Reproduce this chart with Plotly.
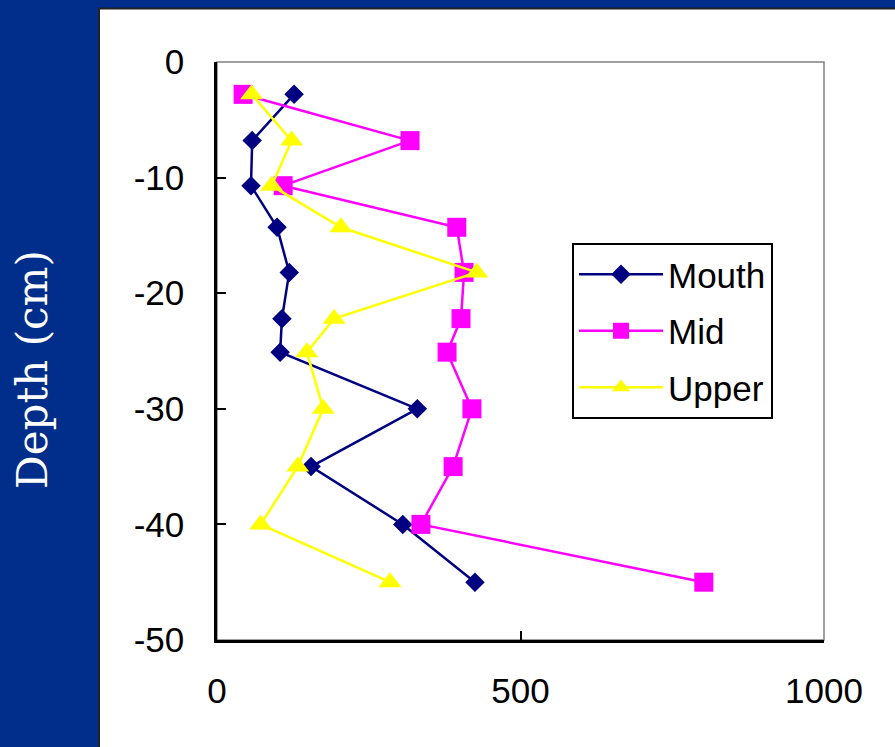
import plotly.graph_objects as go

# Sampling depths (cm) and concentrations at the three stations
depth = [-2.8, -6.8, -10.7, -14.3, -18.2, -22.2, -25.1, -30, -35, -40, -45]
mouth = [127, 58, 56, 99, 119, 107, 104, 330, 155, 306, 425]
mid = [43, 318, 109, 395, 407, 402, 379, 420, 389, 336, 802]
upper = [57, 123, 90, 204, 428, 193, 148, 175, 133, 72, 285]

x_ticks = [0, 500, 1000]
x_labels = ["0", "500", "1000"]
y_ticks = [0, -10, -20, -30, -40, -50]
y_labels = ["0", "-10", "-20", "-30", "-40", "-50"]

W, H = 895, 747
L, R, T, B = 217, 71, 62, 107
pw, ph = W - L - R, H - T - B


def px_x(p):
    return (p - L) / pw


def px_y(p):
    return (H - B - p) / ph


fig = go.Figure()
series = [
    ("Mouth", mouth, "#000080", "diamond", 15),
    ("Mid", mid, "#FF00FF", "square", 19),
    ("Upper", upper, "#FFFF00", "triangle-up", 20),
]
for name, vals, col, sym, sz in series:
    fig.add_trace(go.Scatter(
        x=vals, y=depth, name=name, mode="lines+markers",
        line=dict(color=col, width=2.5),
        marker=dict(color=col, symbol=sym, size=sz, line=dict(width=0)),
        legendgroup=name,
    ))

# white panel behind the chart
fig.add_shape(type="rect", xref="paper", yref="paper",
              x0=px_x(99), x1=px_x(905), y0=px_y(757), y1=px_y(8.5),
              fillcolor="white", line=dict(color="#222222", width=2), layer="below")
# grey frame on top/right of the plot area
fig.add_shape(type="rect", xref="x domain", yref="y domain",
              x0=0, x1=1, y0=0, y1=1, line=dict(color="#808080", width=1.5), layer="below")

axis_font = dict(family="Liberation Sans, Arial", size=35, color="black")
fig.update_xaxes(range=[0, 1000], tickvals=x_ticks, ticktext=x_labels,
                 ticks="inside", ticklen=9, tickwidth=2, tickcolor="black",
                 showline=True, linecolor="black", linewidth=2.5, showgrid=False,
                 zeroline=False, tickfont=axis_font, ticklabelstandoff=18)
fig.update_yaxes(range=[-50, 0], tickvals=y_ticks, ticktext=y_labels,
                 ticks="inside", ticklen=9, tickwidth=2, tickcolor="black",
                 showline=True, linecolor="black", linewidth=2.5, showgrid=False,
                 zeroline=False, tickfont=axis_font, ticklabelstandoff=23)

fig.add_annotation(text="Depth (cm)", xref="paper", yref="paper",
                   x=px_x(33), y=px_y(370), xanchor="center", yanchor="middle",
                   showarrow=False, textangle=-90,
                   font=dict(family="DejaVu Serif", size=42, color="white"))

fig.update_layout(
    width=W, height=H,
    margin=dict(l=L, r=R, t=T, b=B),
    paper_bgcolor="#002E8A",
    plot_bgcolor="#C0C0C0",
    showlegend=True,
    legend=dict(x=px_x(572), y=px_y(243), xanchor="left", yanchor="top",
                bgcolor="white", bordercolor="black", borderwidth=2,
                font=dict(family="Liberation Sans, Arial", size=35, color="black"),
                tracegroupgap=8, itemwidth=84),
)

fig.write_html("out.html")
